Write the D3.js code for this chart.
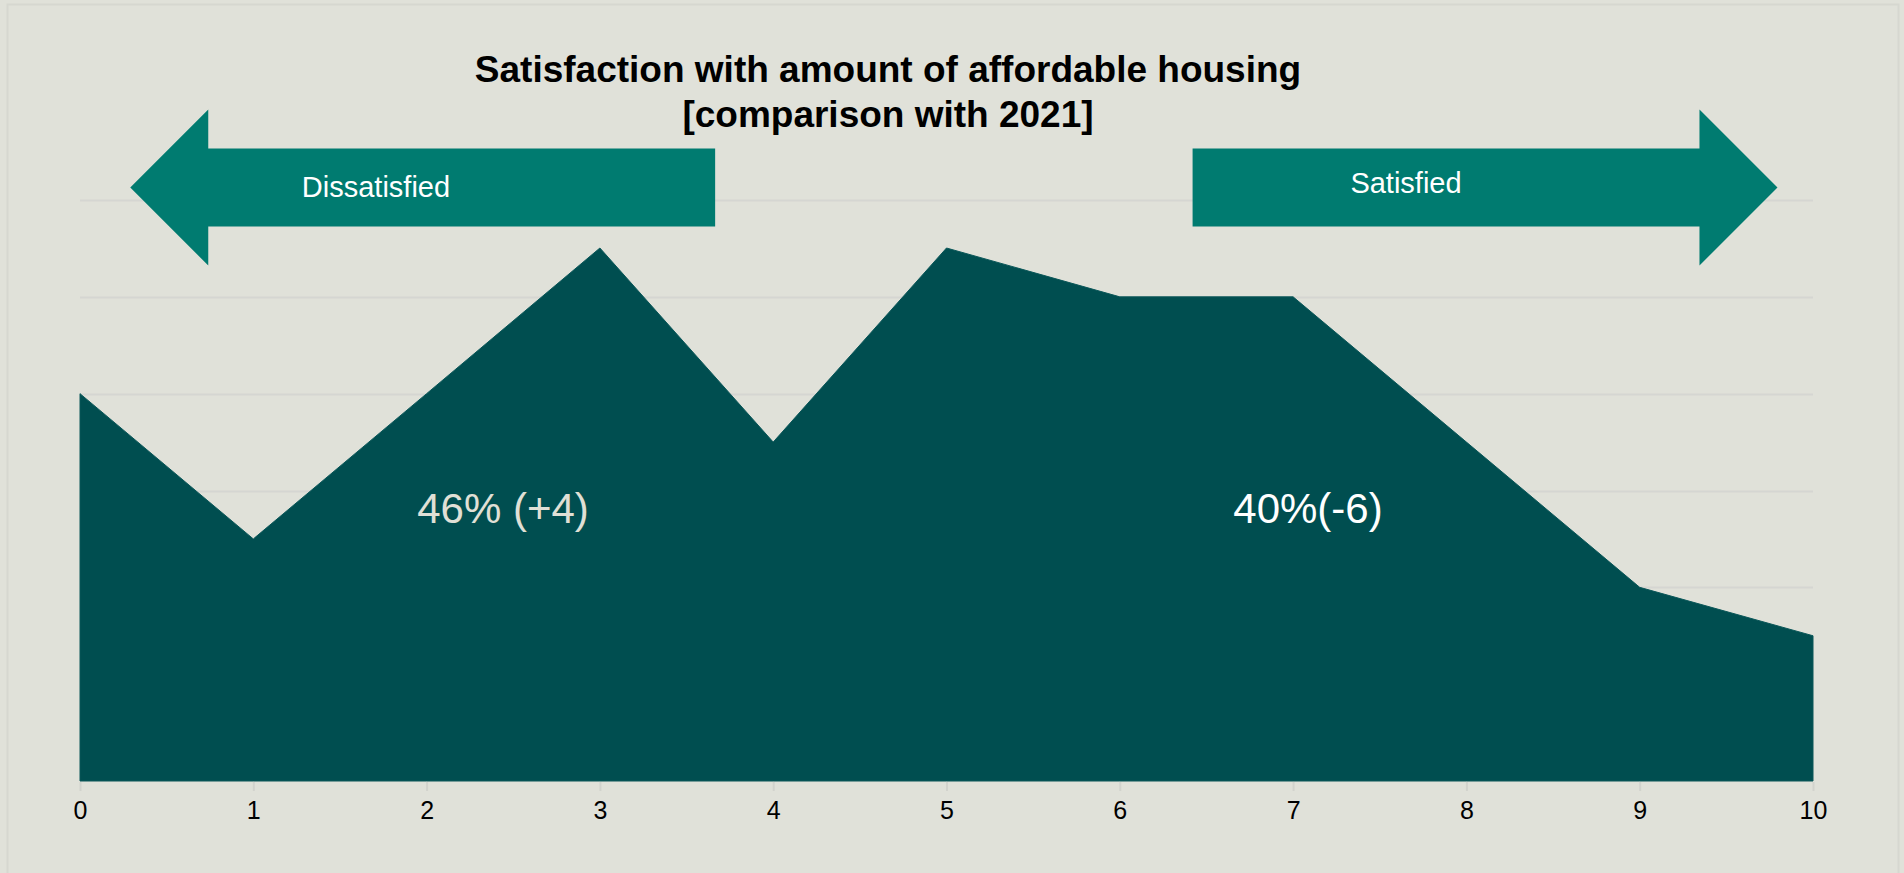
<!DOCTYPE html>
<html>
<head>
<meta charset="utf-8">
<script src="https://cdn.jsdelivr.net/npm/d3@7"></script>
<style>
  html, body { margin: 0; padding: 0; background: #e0e1d9; }
  svg { display: block; font-family: "Liberation Sans", Arial, sans-serif; }
</style>
</head>
<body>
<svg id="chart" width="1904" height="873"></svg>
<script>
// ---- data ----
const scores = [0, 1, 2, 3, 4, 5, 6, 7, 8, 9, 10];
const shares = [9.52, 5.95, 9.52, 13.1, 8.33, 13.1, 11.9, 11.9, 8.33, 4.76, 3.57]; // % of respondents
const titleLines = ["Satisfaction with amount of affordable housing", "[comparison with 2021]"];
const groupLabels = ["Dissatisfied", "Satisfied"];
const groupValues = ["46% (+4)", "40%(-6)"];
const yMax = 14.28;
const gridCount = 6;

// ---- layout ----
const svg = d3.select("#chart");
const W = 1904, H = 873;
const mLeft = 80, mRight = 1813, mTop = 200, mBottom = 781;

svg.append("rect").attr("width", W).attr("height", H).attr("fill", "#e0e1d9");
svg.append("rect").attr("x", 7.5).attr("y", 4.5).attr("width", 1891).attr("height", 880)
  .attr("fill", "none").attr("stroke", "#d6d7d0").attr("stroke-width", 2);

const x = d3.scaleLinear().domain([0, 10]).range([mLeft, mRight]);
const y = d3.scaleLinear().domain([0, yMax]).range([mBottom, mTop]);

// gridlines
const gridVals = d3.range(1, gridCount + 1).map(i => i * yMax / gridCount);
svg.append("g").selectAll("line").data(gridVals).join("line")
  .attr("x1", x(0)).attr("x2", x(10))
  .attr("y1", d => Math.round(y(d)) + 0.5).attr("y2", d => Math.round(y(d)) + 0.5)
  .attr("stroke", "#d5d6d2").attr("stroke-width", 2);

// area
const area = d3.area().x((d, i) => x(scores[i])).y0(y(0)).y1(d => y(d)).curve(d3.curveLinear);
svg.append("path").datum(shares).attr("d", area)
  .attr("fill", "#004e50").attr("stroke", "#0b5759").attr("stroke-width", 1);

// x axis
const xAxis = d3.axisBottom(x).tickValues(scores).tickFormat(d3.format("d")).tickSize(9).tickPadding(10);
const gx = svg.append("g").attr("transform", `translate(0,${mBottom + 1})`).call(xAxis);
gx.attr("font-size", null).attr("font-family", null);
gx.select(".domain").remove();
gx.selectAll(".tick line").attr("stroke", "#d2d3cd").attr("stroke-width", 2);
gx.selectAll(".tick text").attr("fill", "#000").style("font-size", "25px")
  .style("font-family", "'Liberation Sans', Arial, sans-serif");

// title
const title = svg.append("text").attr("text-anchor", "middle")
  .style("font-size", "37px").style("font-weight", "bold").attr("fill", "#000");
titleLines.forEach((t, i) => {
  title.append("tspan").attr("x", 888).attr("y", 82 + i * 45).text(t);
});

// arrows (annotations positioned in score units)
function arrowPath(x0, x1, dir) {
  const sTop = 148.5, sBot = 226.5, hTop = 109.5, hBot = 265.5, mid = 187.5;
  const headLen = 78 * dir;
  const base = x(x1) - headLen;
  return `M${x(x0)},${sTop} L${base},${sTop} L${base},${hTop} L${x(x1)},${mid} L${base},${hBot} L${base},${sBot} L${x(x0)},${sBot} Z`;
}
svg.append("path").attr("d", arrowPath(3.665, 0.29, -1)).attr("fill", "#007b70");
svg.append("path").attr("d", arrowPath(6.42, 9.795, 1)).attr("fill", "#007b70");

svg.append("text").attr("x", 376).attr("y", 197).attr("text-anchor", "middle")
  .style("font-size", "29px").attr("fill", "#ffffff").text(groupLabels[0]);
svg.append("text").attr("x", 1406).attr("y", 193).attr("text-anchor", "middle")
  .style("font-size", "29px").attr("fill", "#ffffff").text(groupLabels[1]);

// group values
svg.append("text").attr("x", 503).attr("y", 523).attr("text-anchor", "middle")
  .style("font-size", "42px").attr("fill", "#e0e0d6").text(groupValues[0]);
svg.append("text").attr("x", 1308).attr("y", 523).attr("text-anchor", "middle")
  .style("font-size", "42px").attr("fill", "#ffffff").text(groupValues[1]);
</script>
</body>
</html>
